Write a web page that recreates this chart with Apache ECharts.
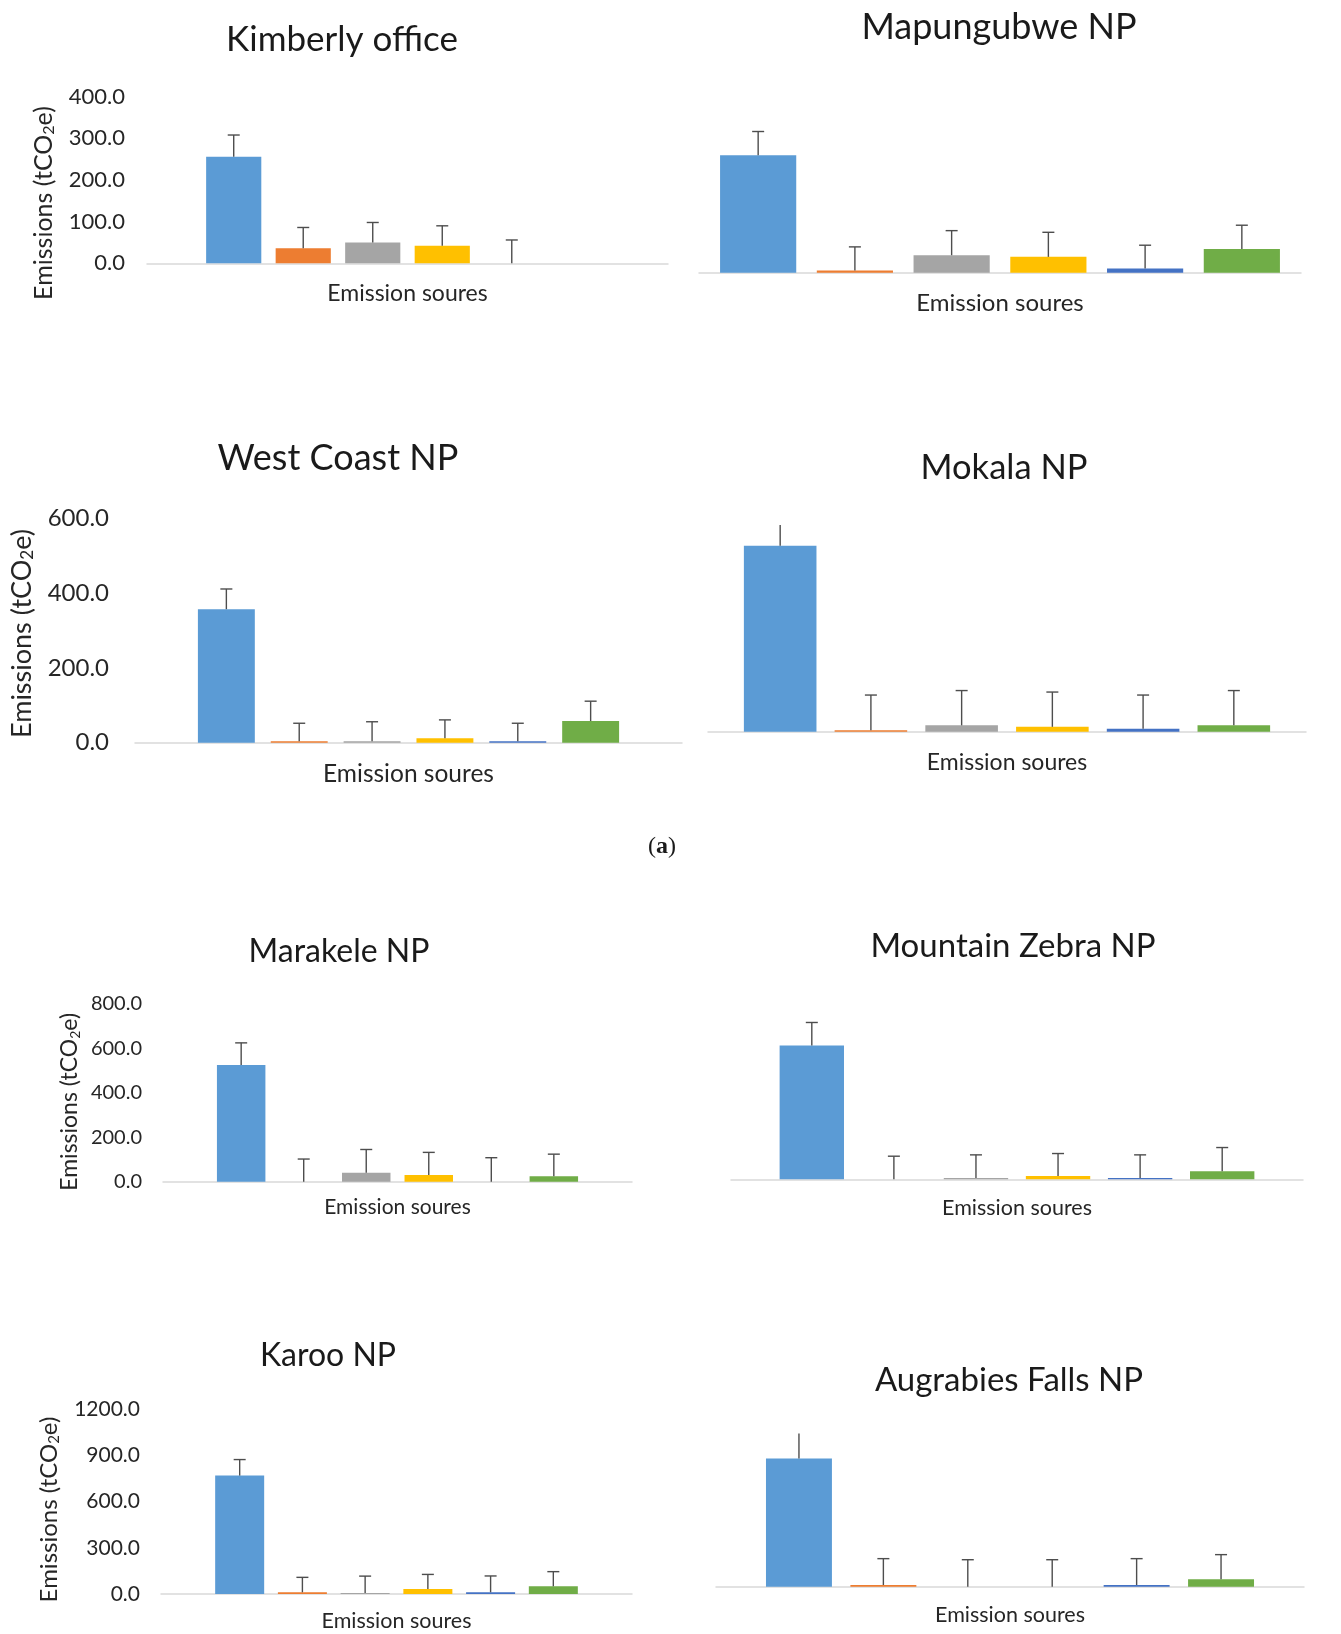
<!DOCTYPE html>
<html>
<head>
<meta charset="utf-8">
<script src="https://cdn.jsdelivr.net/npm/echarts@6/dist/echarts.min.js"></script>
<style>
  html, body { margin: 0; padding: 0; background: #fff; }
  #main { width: 1341px; height: 1634px; }
</style>
</head>
<body>
<div id="main"></div>
<script>
// six emission sources, Office palette colours (no legend in the figure)
const sources = ['Source 1', 'Source 2', 'Source 3', 'Source 4', 'Source 5', 'Source 6'];
const sourceColors = ['#5b9bd5', '#ed7d31', '#a5a5a5', '#ffc000', '#4472c4', '#70ad47'];
const xTitle = 'Emission soures';
const yTitle = 'Emissions (tCO{s|2}e)';

const sites = ['Kimberly office', 'Mapungubwe NP', 'West Coast NP', 'Mokala NP',
  'Marakele NP', 'Mountain Zebra NP', 'Karoo NP', 'Augrabies Falls NP'];

// mean emissions and upper error per source (tCO2e)
const kimberlyMean = [256, 36, 50, 42, 0, 0];
const kimberlyErr = [52, 50, 48, 48, 56, 0];
const mapungubweMean = [282, 5, 42, 38, 10, 57];
const mapungubweErr = [57, 57, 59, 59, 56, 57];
const westCoastMean = [357, 4, 4, 12, 4, 58];
const westCoastErr = [54, 48, 52, 49, 48, 53];
const mokalaMean = [497, 4, 17, 13, 8, 17];
const mokalaErr = [56, 94, 93, 93, 90, 93];
const marakeleMean = [525, 0, 40, 30, 0, 25];
const marakeleErr = [100, 102, 105, 102, 108, 99];
const mountainZebraMean = [602, 0, 6, 15, 6, 36];
const mountainZebraErr = [104, 104, 104, 101, 104, 107];
const karooMean = [768, 11, 6, 32, 11, 50];
const karooErr = [104, 97, 110, 95, 106, 95];
const augrabiesMean = [832, 11, 0, 0, 11, 48];
const augrabiesErr = [162, 171, 175, 175, 171, 160];

const means = [kimberlyMean, mapungubweMean, westCoastMean, mokalaMean,
  marakeleMean, mountainZebraMean, karooMean, augrabiesMean];
const errs = [kimberlyErr, mapungubweErr, westCoastErr, mokalaErr,
  marakeleErr, mountainZebraErr, karooErr, augrabiesErr];

// y axis ranges (right-hand panels have no tick labels)
const yMax = [400, 400, 600, 600, 800, 800, 1200, 1200];
const yStep = [100, 100, 200, 200, 200, 200, 300, 300];

const FONT = 'Lato';

// panel boxes in page pixels; noCap = bars whose error line has no cap in the source
const layout = [
  { left: 147, width: 521, top: 96.7, height: 166.6, cat: 22.7, gap: 26, tx: 342, ty: 40, tfs: 35, yLabels: true, lfs: 22, lm: 22, ng: 90, nshift: 23, nfs: 25, xg: 19, xfs: 23 },
  { left: 699, width: 602, top: 106.1, height: 166.6, cat: 7, gap: 27, tx: 999, ty: 27, tfs: 36, xg: 19, xfs: 24 },
  { left: 135, width: 547, top: 518.3, height: 224.4, cat: 23, gap: 28, tx: 338, ty: 458, tfs: 36, yLabels: true, lfs: 24, lm: 26, ng: 99, nshift: 3, nfs: 27, xg: 19, xfs: 24.5 },
  { left: 708, width: 598, top: 507.3, height: 224.4, cat: 12, gap: 25, tx: 1004, ty: 468, tfs: 34.5, xg: 19, xfs: 23, noCap: [0] },
  { left: 163, width: 469, top: 1004, height: 177.7, cat: 23, gap: 29, tx: 339, ty: 952, tfs: 32, yLabels: true, lfs: 20, lm: 21, ng: 81, nshift: 9, nfs: 23, xg: 15, xfs: 21 },
  { left: 731, width: 572, top: 1001.6, height: 177.7, cat: 17, gap: 27.5, tx: 1013, ty: 946, tfs: 33, xg: 18, xfs: 21.5 },
  { left: 161, width: 471, top: 1409, height: 185, cat: 23, gap: 28, tx: 328, ty: 1356, tfs: 32, yLabels: true, lfs: 21, lm: 21, ng: 99, nshift: 8, nfs: 24, xg: 16, xfs: 21.5 },
  { left: 716, width: 588, top: 1401.7, height: 185, cat: 17, gap: 28, tx: 1009, ty: 1380, tfs: 33, xg: 17, xfs: 21.5, noCap: [0] }
];

// error bar (upper only, with cap) drawn at the position of each clustered bar
function errorBar(p) {
  return function (params, api) {
    const i = api.value(3);
    const mean = api.value(1);
    const err = api.value(2);
    if (!err) return null;
    const n = sources.length;
    const band = api.size([1, 0])[0];
    const g = p.gap / 100;
    const w = band * (1 - p.cat / 100) / (n + (n - 1) * g);
    const cx = api.coord([0, 0])[0];
    const x = cx - (n * w + (n - 1) * g * w) / 2 + i * w * (1 + g) + w / 2;
    const y0 = api.coord([0, mean])[1];
    const y1 = api.coord([0, mean + err])[1];
    const st = { stroke: '#4d4d4d', lineWidth: 1.4 };
    const parts = [{ type: 'line', shape: { x1: x, y1: y0, x2: x, y2: y1 }, style: st }];
    if (!(p.noCap && p.noCap.indexOf(i) >= 0)) {
      parts.push({ type: 'line', shape: { x1: x - 6, y1: y1, x2: x + 6, y2: y1 }, style: st });
    }
    return { type: 'group', children: parts };
  };
}

const chart = echarts.init(document.getElementById('main'), null, { renderer: 'canvas' });

const grid = [], xAxis = [], yAxis = [], title = [], series = [];
layout.forEach(function (p, k) {
  grid.push({ left: p.left, width: p.width, top: p.top, height: p.height, containLabel: false, outerBoundsMode: 'none' });
  title.push({
    text: sites[k], left: p.tx, top: p.ty, textAlign: 'center', textVerticalAlign: 'middle', padding: 0,
    textStyle: { fontFamily: FONT, fontWeight: 'normal', fontSize: p.tfs, color: '#1a1a1a' }
  });
  xAxis.push({
    type: 'category', gridIndex: k, data: [xTitle],
    name: xTitle, nameLocation: 'middle', nameGap: p.xg,
    nameTextStyle: { fontFamily: FONT, fontSize: p.xfs, color: '#262626' },
    axisLine: { lineStyle: { color: '#d9d9d9', width: 1.5 } },
    axisTick: { show: false }, axisLabel: { show: false }
  });
  const y = {
    type: 'value', gridIndex: k, min: 0, max: yMax[k], interval: yStep[k],
    splitLine: { show: false }, axisLine: { show: false }, axisTick: { show: false },
    axisLabel: {
      show: !!p.yLabels, margin: p.lm || 8, fontFamily: FONT, fontSize: p.lfs || 12, color: '#262626',
      formatter: function (v) { return v.toFixed(1); }
    }
  };
  if (p.yLabels) {
    y.name = yTitle;
    y.nameLocation = 'middle';
    y.nameRotate = 90;
    y.nameGap = p.ng;
    y.nameTextStyle = {
      fontFamily: FONT, fontSize: p.nfs, color: '#262626', padding: [0, 2 * p.nshift, 0, 0],
      rich: { s: { fontFamily: FONT, fontSize: Math.round(p.nfs * 0.62), color: '#262626', padding: [10, 0, 0, 0] } }
    };
  }
  yAxis.push(y);
  sources.forEach(function (s, i) {
    series.push({
      type: 'bar', name: s, xAxisIndex: k, yAxisIndex: k,
      data: [means[k][i]],
      barGap: p.gap + '%', barCategoryGap: p.cat + '%',
      itemStyle: { color: sourceColors[i] },
      silent: true, animation: false
    });
  });
  series.push({
    type: 'custom', name: sites[k] + ' error', xAxisIndex: k, yAxisIndex: k,
    data: means[k].map(function (m, i) { return [0, m, errs[k][i], i]; }),
    renderItem: errorBar(p), silent: true, animation: false, z: 5
  });
});

chart.setOption({
  backgroundColor: '#ffffff',
  animation: false,
  title: title,
  grid: grid,
  xAxis: xAxis,
  yAxis: yAxis,
  series: series,
  graphic: [{
    type: 'text', x: 662, y: 847,
    style: {
      text: '({b|a})', textAlign: 'center', textVerticalAlign: 'middle',
      font: '24px "Liberation Serif"', fill: '#1a1a1a',
      rich: { b: { fontFamily: 'Liberation Serif', fontWeight: 'bold', fontSize: 24, fill: '#1a1a1a' } }
    }
  }]
});
</script>
</body>
</html>
